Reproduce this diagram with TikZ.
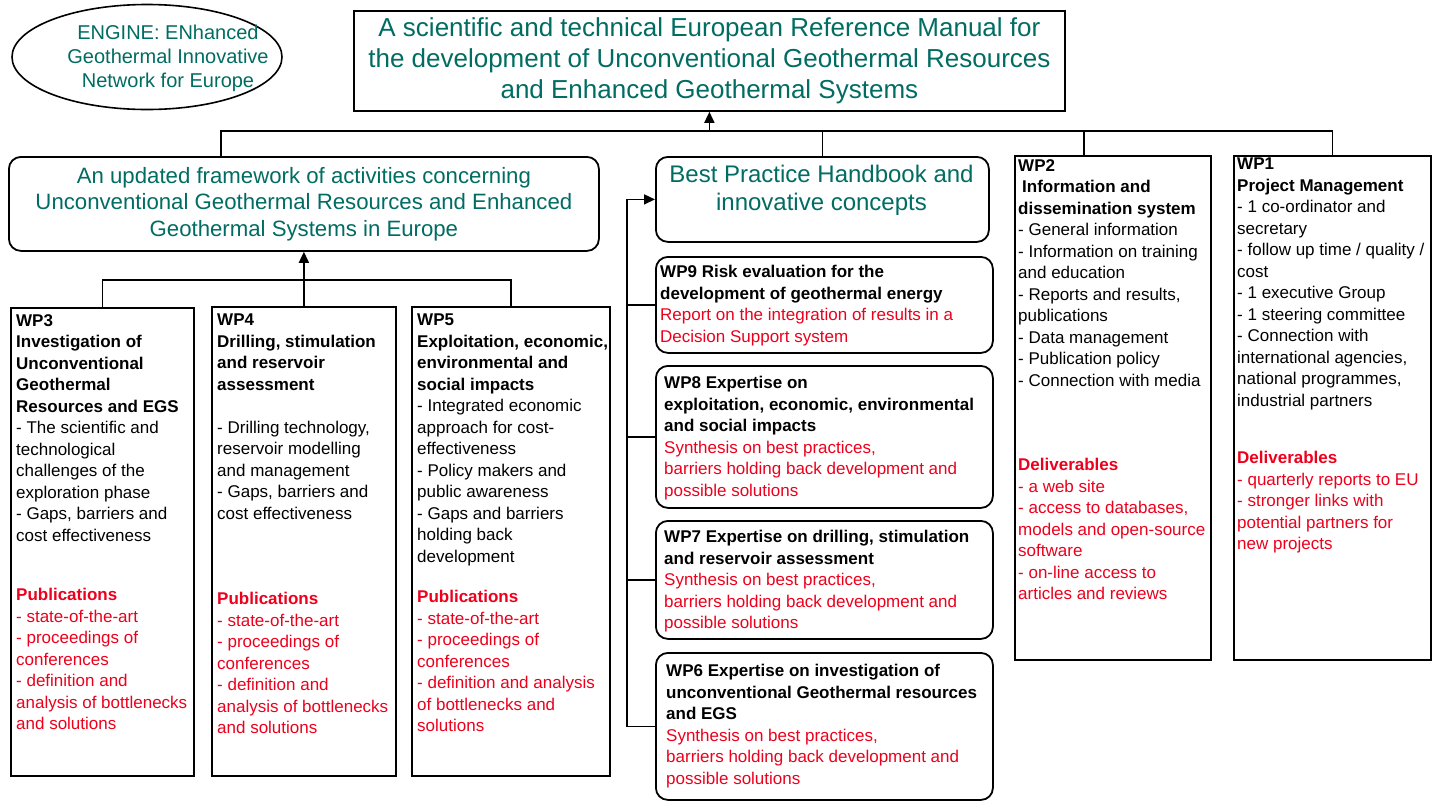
\documentclass[tikz,border=0pt]{standalone}
\usepackage{fontspec}
\setmainfont{Liberation Sans}
\usetikzlibrary{arrows.meta,shapes.geometric}
\definecolor{enggreen}{RGB}{0,108,98}
\definecolor{engred}{RGB}{236,0,28}

\begin{document}
\begin{tikzpicture}[x=1pt,y=-1pt,
    wpbox/.style={draw,line width=1.8pt,inner sep=0pt,anchor=north west},
    rbox/.style={wpbox,rounded corners=12pt},
    txt/.style={anchor=north west,inner sep=0pt,align=left,font=\fontsize{17}{21.5}\selectfont},
    gtxt/.style={text=enggreen,align=center},
    link/.style={line width=1.6pt},
    arr/.style={link,-{Triangle[length=11pt,width=10pt]}}]
\useasboundingbox (0,0) rectangle (1435,801);

\node[ellipse,draw,line width=1.6pt,minimum width=270,minimum height=105] (engine) at (147,57) {};
\node[gtxt,font=\fontsize{20}{24}\selectfont] (enginetxt) at (168,58) {ENGINE: ENhanced\\Geothermal Innovative\\Network for Europe};
\node[wpbox,minimum width=711,minimum height=100,gtxt,font=\fontsize{26}{31}\selectfont] (manual) at (353,10) {A scientific and technical European Reference Manual for\\the development of Unconventional Geothermal Resources\\and Enhanced Geothermal Systems};

\node[rbox,minimum width=590,minimum height=94,gtxt,font=\fontsize{22.2}{26.5}\selectfont] (frame) at (8,156) {An updated framework of activities concerning\\Unconventional Geothermal Resources and Enhanced\\Geothermal Systems in Europe};
\node[rbox,minimum width=333,minimum height=85] (bp) at (655,156) {};
\node[gtxt,font=\fontsize{24}{28}\selectfont] (bptxt) at (821.5,190) {Best Practice Handbook and\\innovative concepts};
\node[wpbox,minimum width=196,minimum height=504] (wp2) at (1014,155) {};
\node[wpbox,minimum width=197,minimum height=504] (wp1) at (1233,155) {};

\node[wpbox,minimum width=183,minimum height=468] (wp3) at (10,307) {};
\node[wpbox,minimum width=184,minimum height=469] (wp4) at (211,306) {};
\node[wpbox,minimum width=198,minimum height=469] (wp5) at (411,306) {};

\node[rbox,minimum width=337,minimum height=96] (wp9) at (655,256) {};
\node[rbox,minimum width=337,minimum height=142] (wp8) at (655,365) {};
\node[rbox,minimum width=337,minimum height=118] (wp7) at (655,520) {};
\node[rbox,minimum width=337,minimum height=147] (wp6) at (655,652) {};

\coordinate (tb) at (0,131);
\coordinate (lb) at (0,280);
\coordinate (sp) at (627,0);
\draw[link] ([xshift=-83pt]frame.north) |- (wp1.north |- tb) -- (wp1.north);
\draw[arr] (manual.south |- tb) -- (manual.south);
\draw[link] (bp.north) -- (bp.north |- tb);
\draw[link] ([xshift=-29pt]wp2.north) -- ([xshift=-29pt]wp2.north |- tb);
\draw[link] (wp3.north) |- (wp5.north |- lb) -- (wp5.north);
\draw[arr] (wp4.north) -- (frame.south);
\draw[arr] (sp |- bp.west) -- (bp.west);
\draw[link] (sp |- bp.west) |- (wp6.west);
\foreach \n in {wp9,wp8,wp7}
  \draw[link] (sp |- \n.west) -- (\n.west);

\node[txt] (wp3t) at (16,314) {\textbf{WP3}\\\textbf{Investigation of}\\\textbf{Unconventional}\\\textbf{Geothermal}\\\textbf{Resources and EGS}\\- The scientific and\\technological\\challenges of the\\exploration phase\\- Gaps, barriers and\\cost effectiveness};
\node[txt,text=engred] (wp3p) at (16,588) {\textbf{Publications}\\- state-of-the-art\\- proceedings of\\conferences\\- definition and\\analysis of bottlenecks\\and solutions};

\node[txt] (wp4t) at (217,314) {\textbf{WP4}\\\textbf{Drilling, stimulation}\\\textbf{and reservoir}\\\textbf{assessment}\\[21.5pt]- Drilling technology,\\reservoir modelling\\and management\\- Gaps, barriers and\\cost effectiveness};
\node[txt,text=engred] (wp4p) at (217,592) {\textbf{Publications}\\- state-of-the-art\\- proceedings of\\conferences\\- definition and\\analysis of bottlenecks\\and solutions};

\node[txt] (wp5t) at (417,314) {\textbf{WP5}\\\textbf{Exploitation, economic,}\\\textbf{environmental and}\\\textbf{social impacts}\\- Integrated economic\\approach for cost-\\effectiveness\\- Policy makers and\\public awareness\\- Gaps and barriers\\holding back\\development};
\node[txt,text=engred] (wp5p) at (417,590) {\textbf{Publications}\\- state-of-the-art\\- proceedings of\\conferences\\- definition and analysis\\of bottlenecks and\\solutions};

\node[txt] (wp2t) at (1018,159) {\textbf{WP2}\\\hspace{4pt}\textbf{Information and}\\\textbf{dissemination system}\\- General information\\- Information on training\\and education\\- Reports and results,\\publications\\- Data management\\- Publication policy\\- Connection with media};
\node[txt,text=engred] (wp2d) at (1018,458) {\textbf{Deliverables}\\- a web site\\- access to databases,\\models and open-source\\software\\- on-line access to\\articles and reviews};

\node[txt] (wp1t) at (1237,158) {\textbf{WP1}\\\textbf{Project Management}\\- 1 co-ordinator and\\secretary\\- follow up time / quality /\\cost\\- 1 executive Group\\- 1 steering committee\\- Connection with\\international agencies,\\national programmes,\\industrial partners};
\node[txt,text=engred] (wp1d) at (1237,451) {\textbf{Deliverables}\\- quarterly reports to EU\\- stronger links with\\potential partners for\\new projects};

\node[txt] (wp9t) at (660,265) {\textbf{WP9 Risk evaluation for the}\\\textbf{development of geothermal energy}\\\textcolor{engred}{Report on the integration of results in a}\\\textcolor{engred}{Decision Support system}};
\node[txt] (wp8t) at (664,376) {\textbf{WP8 Expertise on}\\\textbf{exploitation, economic, environmental}\\\textbf{and social impacts}\\\textcolor{engred}{Synthesis on best practices,}\\\textcolor{engred}{barriers holding back development and}\\\textcolor{engred}{possible solutions}};
\node[txt] (wp7t) at (664,530) {\textbf{WP7 Expertise on drilling, stimulation}\\\textbf{and reservoir assessment}\\\textcolor{engred}{Synthesis on best practices,}\\\textcolor{engred}{barriers holding back development and}\\\textcolor{engred}{possible solutions}};
\node[txt] (wp6t) at (666,664) {\textbf{WP6 Expertise on investigation of}\\\textbf{unconventional Geothermal resources}\\\textbf{and EGS}\\\textcolor{engred}{Synthesis on best practices,}\\\textcolor{engred}{barriers holding back development and}\\\textcolor{engred}{possible solutions}};
\end{tikzpicture}
\end{document}
